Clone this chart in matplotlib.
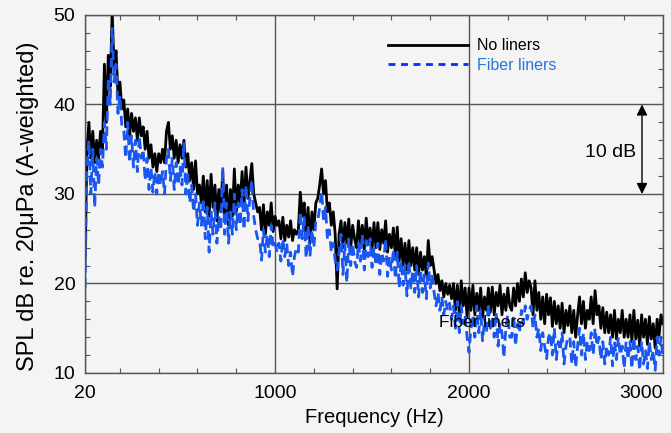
import numpy as np
import matplotlib.pyplot as plt
from matplotlib.lines import Line2D

plt.rcParams['font.family'] = ['Liberation Sans', 'DejaVu Sans']

# frequency grid of the spectra, 10 Hz bins
freq = np.arange(20, 3001, 10)

# SPL, one row per 100 Hz
no_liners = [
    22.5, 35, 38, 34, 37, 33.5, 36, 34, 37, 35,
    44.5, 38, 45.5, 42, 50.5, 44, 46, 41, 42.5, 39.5,
    40.5, 37.5, 39.5, 36.5, 39, 37, 38.5, 36, 38.5, 36.5,
    37.5, 35, 37, 34, 35.5, 33, 34.5, 32.5, 34.5, 33.5,
    35, 33.5, 37, 38, 35, 36.5, 34, 36, 33.5, 35.5,
    34, 36, 33, 34.5, 31.5, 33.5, 30.5, 33.7, 30, 31,
    29, 32, 28, 31.5, 27.5, 32.2, 28.5, 31, 27, 30.5,
    28, 32.5, 27, 31, 26.5, 30.5, 27.5, 32.8, 28, 31,
    29, 32.5, 28.5, 33, 29.5, 31.5, 33.4, 30, 29, 28,
    28.5, 26, 28.8, 25.5, 28, 26.5, 29, 25.8, 27.5, 26.5,
    27, 25, 27.4, 24.8, 26.5, 25.2, 27, 24.8, 26, 25.5,
    26, 30.2, 27.5, 29, 25, 28.5, 24.5, 28, 26, 29,
    29.5, 31, 32.8, 30, 31.5, 28, 29, 26.5, 28, 25.5,
    19.4, 25.5, 27, 24, 26.8, 24.5, 27.2, 24, 26.5, 25,
    24, 27, 24.5, 26.5, 23.8, 27.3, 24.5, 26.2, 23.8, 26.8,
    24, 26.8, 23.8, 26, 24.5, 27, 23.5, 25.5, 24, 26.2,
    23, 26.3, 22.5, 25, 22, 24.5, 21.5, 24.8, 22, 24,
    21.5, 24, 21, 23.5, 21.5, 23, 20.8, 24.8, 22, 23,
    21.5, 20, 21, 19.2, 20.3, 18.5, 20, 18.8, 19.8, 18.3,
    20, 17, 19.8, 16.5, 20.3, 17.5, 19.5, 16.2, 19.5, 17,
    19.8, 16.5, 18.9, 17, 19.5, 16.2, 18.5, 17, 19.5, 16.8,
    19.6, 16.5, 19, 17.5, 19.8, 16.5, 18.8, 17, 19.5, 17.5,
    17, 19.5, 17.5, 20, 18, 20.5, 18.5, 21.2, 19, 20.3,
    19.5, 16.5, 20.3, 17, 19, 16, 18.5, 15.5, 18.8, 16.5,
    18.4, 15.2, 18, 15.5, 17.5, 15, 17.8, 14.5, 17, 15.3,
    17.5, 14.5, 17, 14, 16.5, 18.5, 15.5, 18, 15, 17,
    16, 18.5, 15.5, 19.2, 16.5, 17.5, 15, 17.3, 14.5, 16.8,
    14.5, 16.5, 14, 17, 13.8, 16, 14.5, 17, 14, 16,
    14, 16.5, 13.5, 17, 13.8, 15.9, 13, 16.5, 14, 16,
    13.2, 16.3, 13.8, 15.5, 12.8, 16, 14.2, 16.5, 15.5,
]

fiber_liners = [
    19.5, 33, 36, 30, 35, 28.5, 34, 31, 35, 33,
    38, 35, 43, 40, 48.5, 42.5, 44.5, 39, 41, 37.5,
    37, 34, 38, 33.5, 36.5, 33, 36, 32.5, 36.5, 34,
    35, 31.5, 34, 30.5, 33, 30.2, 32.5, 30, 32.5, 31,
    32.5, 30, 34, 35, 31.5, 34, 30.5, 33.5, 31, 33,
    31, 35.8, 30, 32.5, 29, 31, 28, 30, 26.5, 29,
    26.5, 29.5, 25, 28.5, 23.5, 28, 25.5, 29, 24.5, 27.5,
    26, 33, 25.5, 29, 24.5, 28, 25.5, 30, 26, 29,
    26.5, 30.5, 26, 31, 27, 29.5, 31.5, 27.5, 26, 25,
    25, 22.6, 26, 23.5, 25.5, 23, 26.5, 24, 24.5, 23.5,
    24.5, 22.5, 25, 23, 24.5, 22, 23.5, 20.8, 23, 24,
    23.5, 28, 25, 27.5, 22.8, 26.5, 23, 26, 24, 27,
    27, 28.5, 30.3, 27, 28.5, 25, 26, 23.5, 24.5, 22.6,
    21.5, 23.5, 25.5, 21, 24.5, 20.1, 25, 22, 24.5, 22.5,
    21.8, 24.5, 22.5, 25.5, 21.5, 24.8, 23, 25, 21.8, 24,
    22, 24.5, 21, 23.5, 22.5, 25, 20.8, 23, 21.5, 23.8,
    20.5, 23.5, 19.5, 22.5, 19.8, 22, 18.6, 22.5, 19.5, 21.5,
    19, 22, 18.5, 21.5, 19, 21, 18.3, 22.3, 19.5, 21,
    19, 17.5, 19, 17, 18.5, 16.5, 18, 17, 17.8, 16,
    17.5, 15, 18, 14.5, 17.5, 15.5, 16.5, 14, 12.3, 15,
    16.5, 14, 17.5, 14.5, 17, 13.6, 16, 14.5, 17.8, 15,
    16, 14, 16.8, 13, 15.5, 14.5, 11.7, 15, 16.5, 14,
    14, 16.5, 13, 15.5, 14.5, 17, 15.5, 17.5, 16, 17,
    17.5, 15, 16.5, 14, 15, 12.5, 14.5, 13, 11.6, 14,
    14.5, 12, 15, 11.5, 13.5, 12.5, 14.5, 11, 13, 14,
    14, 11, 13.5, 10.6, 13, 15, 12, 14.5, 11.5, 13.5,
    12.5, 14.5, 12, 15, 13, 14, 11.5, 13.5, 11, 13,
    12, 14, 10.8, 13.5, 11.5, 14, 12, 13, 10.5, 13.5,
    11.5, 13.5, 10.5, 14, 11.5, 13, 10.3, 13.5, 11, 12.5,
    10.5, 13.5, 11.5, 12.5, 10.3, 14, 12, 14, 11.5,
]

xticks = [20, 1000, 2000, 3000]
yticks = [10, 20, 30, 40, 50]

bg = '#f4f4f4'
blue = '#1a56f0'
dash = (0, (3.5, 2))

fig = plt.figure(figsize=(6.71, 4.33), dpi=100, facecolor=bg)
ax = fig.add_axes([0.1267, 0.1386, 0.8613, 0.8268], facecolor=bg)

ax.plot(freq, no_liners, color='black', lw=2.0)
ax.plot(freq, fiber_liners, color=blue, lw=2.0, linestyle=dash)

ax.set_xlim(20, 3000)
ax.set_ylim(10, 50)
ax.set_xticks(xticks)
ax.set_yticks(yticks)
ax.set_xticks(np.arange(200, 3000, 200), minor=True)
ax.set_yticks(np.arange(12, 50, 2), minor=True)
ax.tick_params(which='both', direction='in', top=True, right=True,
               color='#555555', labelsize=14)
ax.tick_params(which='major', length=0)
ax.tick_params(which='minor', length=3.5, width=0.8)
ax.tick_params(axis='x', pad=9)
ax.tick_params(axis='y', pad=7)
ax.get_xticklabels()[-1].set_ha('right')
ax.grid(True, which='major', color='#555555', lw=1)
for s in ax.spines.values():
    s.set_color('#555555')
    s.set_linewidth(1)

ax.set_xlabel('Frequency (Hz)', fontsize=14.5, labelpad=4)
ax.set_ylabel('SPL dB re. 20\u03bcPa (A-weighted)', fontsize=17)
ax.yaxis.set_label_coords(-0.08, 0.465)

handles = [Line2D([], [], color='black', lw=2),
           Line2D([], [], color='#0a2cff', lw=2, linestyle=(0, (2.5, 2)))]
ax.legend(handles, ['No liners', 'Fiber liners'], loc='upper left',
          bbox_to_anchor=(0.524, 0.935), frameon=False, fontsize=11.5,
          handlelength=5.0, handletextpad=0.6, labelspacing=0.3,
          borderpad=0, borderaxespad=0, labelcolor=['black', '#2277dd'])

ax.annotate('', xy=(2892, 30), xytext=(2892, 40),
            arrowprops=dict(arrowstyle='<|-|>', color='black', lw=1,
                            mutation_scale=16, shrinkA=0, shrinkB=0))
ax.text(2862, 34.6, '10 dB', fontsize=14, ha='right', va='center')
ax.text(2067, 15.6, 'Fiber liners', fontsize=12.5, ha='center', va='center')

fig.savefig('out.png', dpi=100, facecolor=bg)
